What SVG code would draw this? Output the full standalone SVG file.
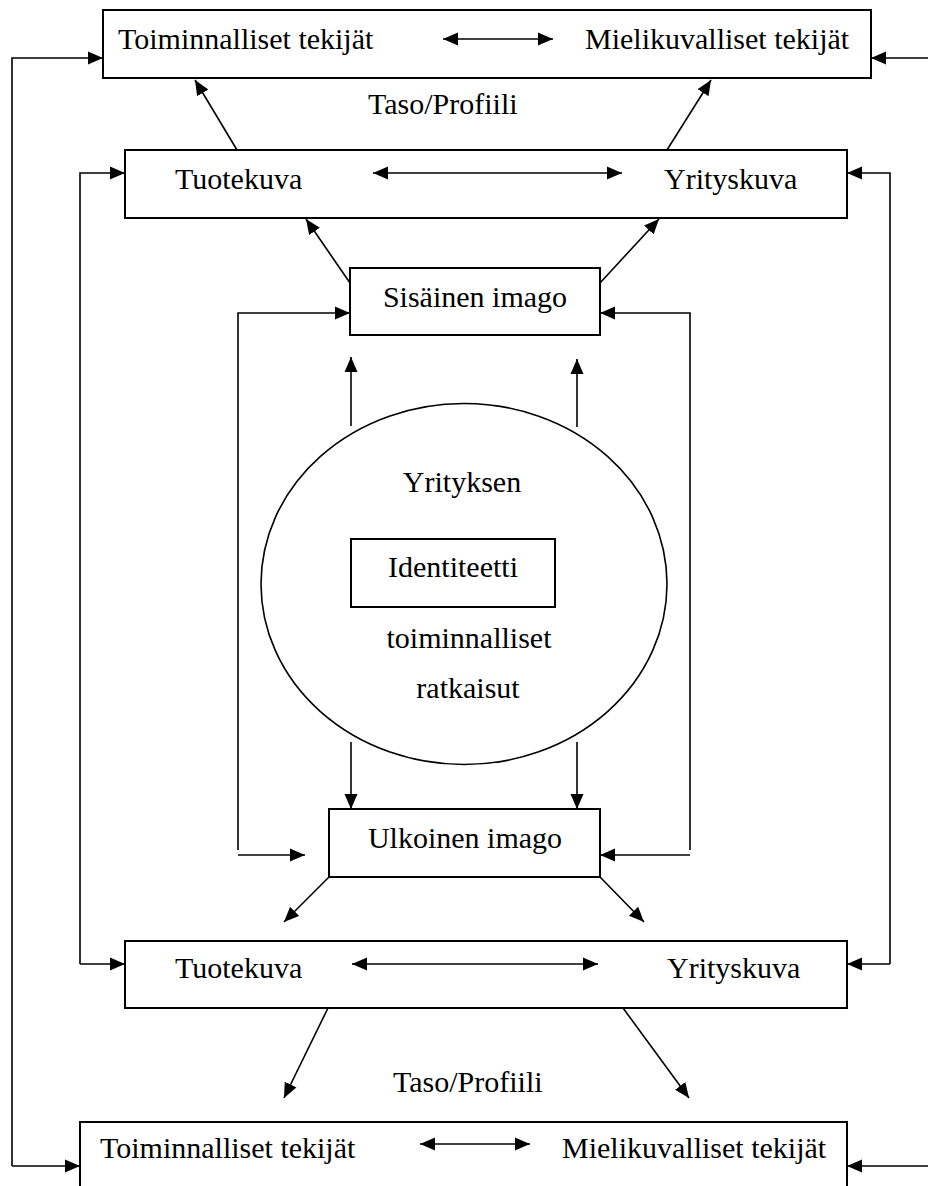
<svg xmlns="http://www.w3.org/2000/svg" width="928" height="1186" viewBox="0 0 928 1186">
<style>
.box{fill:#fff;stroke:#000;stroke-width:2}
.t{font-family:"Liberation Serif","Times New Roman",serif;font-size:30px;fill:#000}
.c{fill:none;stroke:#000;stroke-width:1.6}
.a{marker-end:url(#ah)}
.d{marker-start:url(#ah);marker-end:url(#ah)}
</style>
<defs>
<marker id="ah" markerUnits="userSpaceOnUse" markerWidth="16" markerHeight="14" refX="15" refY="6.5" orient="auto-start-reverse" viewBox="0 0 16 13">
<path d="M0,0 L15,6.5 L0,13 z" fill="#000"/>
</marker>
</defs>
<rect width="928" height="1186" fill="#fff"/>

<g id="top-level">
<rect class="box" x="103" y="10" width="768" height="68"/>
<text class="t" x="118" y="49">Toiminnalliset tekijät</text>
<text class="t" x="585" y="49">Mielikuvalliset tekijät</text>
</g>
<g id="top-label"><text class="t" x="368" y="114">Taso/Profiili</text></g>

<g id="top-kuva">
<rect class="box" x="125" y="150" width="722" height="68"/>
<text class="t" x="175" y="189">Tuotekuva</text>
<text class="t" x="664" y="189">Yrityskuva</text>
</g>

<g id="sisainen">
<rect class="box" x="350" y="268" width="250" height="67"/>
<text class="t" x="475" y="307" text-anchor="middle">Sisäinen imago</text>
</g>

<g id="yritys">
<ellipse cx="464" cy="584" rx="203" ry="180.5" fill="#fff" stroke="#000" stroke-width="1.6"/>
<text class="t" x="462" y="492" text-anchor="middle">Yrityksen</text>
<rect class="box" x="351" y="539" width="204" height="68" stroke-width="1.6"/>
<text class="t" x="453" y="577" text-anchor="middle">Identiteetti</text>
<text class="t" x="469" y="648" text-anchor="middle">toiminnalliset</text>
<text class="t" x="468" y="698" text-anchor="middle">ratkaisut</text>
</g>

<g id="ulkoinen">
<rect class="box" x="329" y="809" width="271" height="68"/>
<text class="t" x="465" y="848" text-anchor="middle">Ulkoinen imago</text>
</g>

<g id="bottom-kuva">
<rect class="box" x="125" y="941" width="722" height="67"/>
<text class="t" x="175" y="978">Tuotekuva</text>
<text class="t" x="667" y="978">Yrityskuva</text>
</g>
<g id="bottom-label"><text class="t" x="393" y="1092">Taso/Profiili</text></g>

<g id="bottom-level">
<rect class="box" x="80" y="1122" width="767" height="80"/>
<text class="t" x="100" y="1158">Toiminnalliset tekijät</text>
<text class="t" x="562" y="1158">Mielikuvalliset tekijät</text>
</g>

<g id="connectors">
<line class="c d" x1="443" y1="39" x2="553" y2="39"/>
<line class="c d" x1="373" y1="173" x2="622" y2="173"/>
<line class="c d" x1="352" y1="964" x2="598" y2="964"/>
<line class="c d" x1="420" y1="1144" x2="530" y2="1144"/>

<polyline class="c a" points="12,1166 12,58 103,58"/>
<line class="c a" x1="12" y1="1166" x2="80" y2="1166"/>
<line class="c a" x1="928" y1="58" x2="871" y2="58"/>
<line class="c a" x1="928" y1="1166" x2="847" y2="1166"/>

<polyline class="c a" points="80,964 80,173 125,173"/>
<line class="c a" x1="80" y1="964" x2="125" y2="964"/>
<polyline class="c a" points="890,964 890,173 847,173"/>
<line class="c a" x1="890" y1="964" x2="847" y2="964"/>

<line class="c a" x1="237" y1="150" x2="195" y2="80"/>
<line class="c a" x1="667" y1="150" x2="711" y2="80"/>

<line class="c a" x1="350" y1="283" x2="306" y2="219"/>
<line class="c a" x1="600" y1="283" x2="659" y2="219"/>

<polyline class="c a" points="238,850 238,313 350,313"/>
<polyline class="c a" points="690,850 690,313 600,313"/>
<line class="c a" x1="238" y1="855" x2="305" y2="855"/>
<line class="c a" x1="690" y1="855" x2="600" y2="855"/>

<line class="c a" x1="351" y1="426" x2="351" y2="357"/>
<line class="c a" x1="577" y1="427" x2="577" y2="359"/>
<line class="c a" x1="351" y1="742" x2="351" y2="809"/>
<line class="c a" x1="577" y1="742" x2="577" y2="809"/>

<line class="c a" x1="329" y1="877" x2="284" y2="922"/>
<line class="c a" x1="600" y1="877" x2="644" y2="922"/>

<line class="c a" x1="328" y1="1008" x2="284" y2="1098"/>
<line class="c a" x1="623" y1="1008" x2="689" y2="1098"/>
</g>
</svg>
